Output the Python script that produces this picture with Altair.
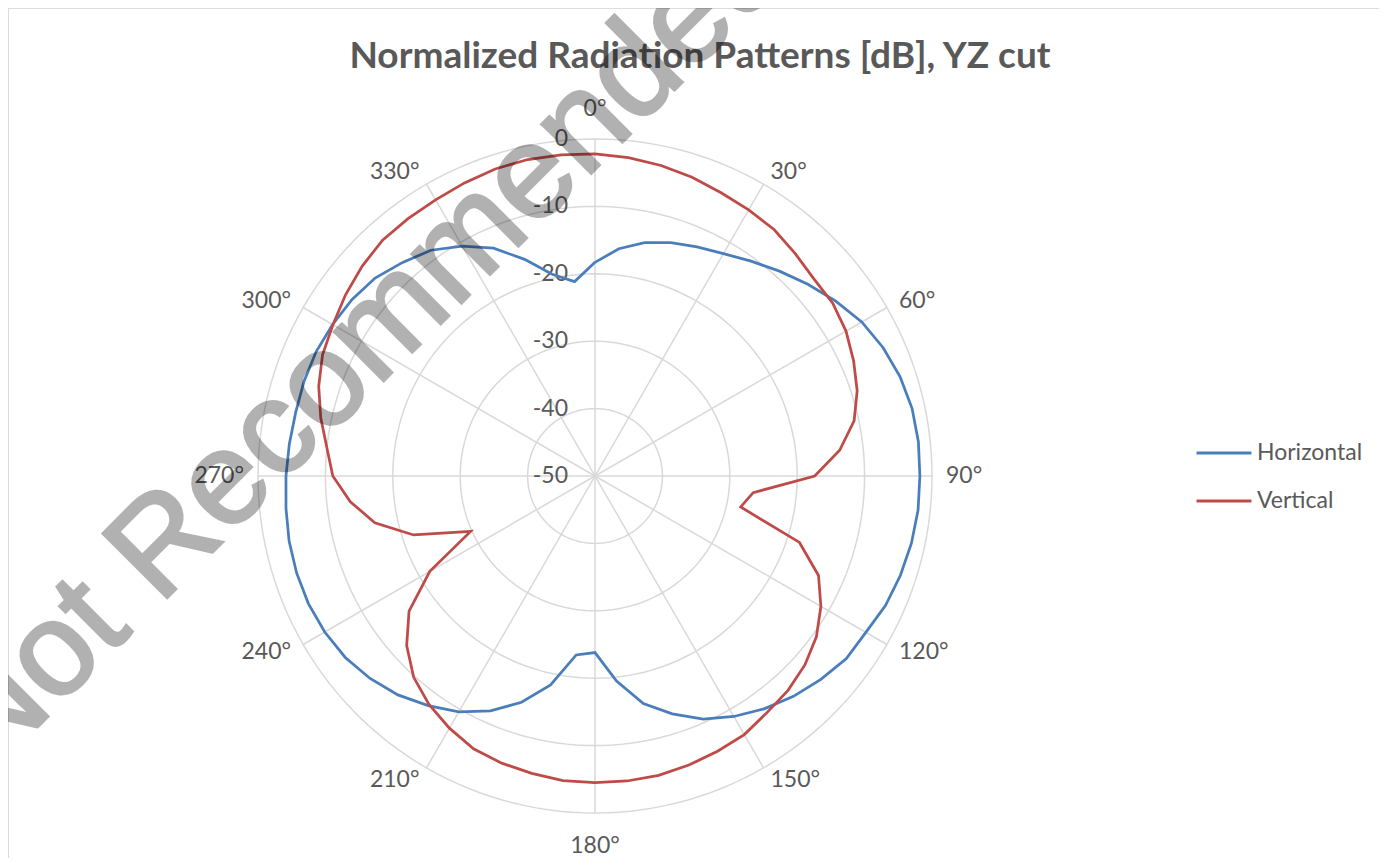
import altair as alt
import pandas as pd

# ---------------- data ----------------
angles = list(range(0, 360, 6))
horizontal = [-18.3, -16.1, -14.6, -13.6, -12.8, -11.9, -10.6, -9.1, -7.5, -5.85,
              -4.3, -3.2, -2.4, -1.9, -1.75, -1.8, -1.8, -2.0, -2.35, -2.8,
              -3.6, -3.9, -4.9, -6.0, -7.3, -8.8, -10.5, -12.9, -15.5, -19.4,
              -23.8, -23.3, -18.3, -14.7, -11.85, -9.6, -7.9, -6.3, -5.1, -4.2,
              -3.7, -3.45, -3.45, -3.6, -3.9, -4.15, -4.4, -4.6, -4.6, -4.7,
              -5.05, -5.45, -6.1, -7.35, -8.6, -10.6, -13.0, -16.2, -19.4, -21.0]
vertical = [-2.2, -2.5, -2.9, -3.4, -4.0, -4.4, -4.8, -5.6, -6.3, -6.4,
            -7.0, -8.0, -9.1, -10.7, -13.5, -17.4, -26.4, -27.9, -18.1, -13.7,
            -11.3, -9.4, -8.1, -7.2, -6.6, -5.7, -5.3, -4.9, -4.6, -4.5,
            -4.5, -4.55, -4.9, -5.2, -5.7, -6.8, -8.1, -9.8, -12.4, -15.9,
            -21.7, -29.8, -21.7, -16.6, -13.5, -11.1, -10.0, -8.4, -6.9, -5.75,
            -5.1, -4.25, -3.5, -2.9, -2.8, -2.7, -2.4, -2.1, -2.0, -2.1]
series_names = ["Horizontal", "Vertical"]
series_colors = ["#4A7EBB", "#BE4B48"]
ring_levels = [-40, -30, -20, -10, 0]
radial_ticks = [-50, -40, -30, -20, -10, 0]
spoke_angles = list(range(0, 360, 30))
title_text = "Normalized Radiation Patterns [dB], YZ cut"
watermark_text = "Not Recommended"

# ---------------- geometry / style ----------------
DB_MIN = -50
PX = 6.74            # pixels per dB on the radial axis
W, H = 1371, 850     # plot area
CX, CY = 587, 468    # pole position inside the plot area
GRID = "#d9d9d9"
TXT = "#595959"
FONT = "Lato"

xs = alt.Scale(domain=[-CX / PX, (W - CX) / PX], nice=False, zero=False)
ys = alt.Scale(domain=[-(H - CY) / PX, CY / PX], nice=False, zero=False)

rad = "datum.deg * PI / 180"

# series table (closed polygon: repeat first point at 360)
rows = []
for name, vals in zip(series_names, [horizontal, vertical]):
    for a, v in zip(angles, vals):
        rows.append({"series": name, "deg": a, "db": v})
    rows.append({"series": name, "deg": 360, "db": vals[0]})
series_df = pd.DataFrame(rows)

ring_df = pd.DataFrame([{"level": lv, "deg": d} for lv in ring_levels for d in range(0, 361, 2)])
spoke_df = pd.DataFrame({"deg": spoke_angles})
label_df = pd.DataFrame({"deg": spoke_angles, "label": [f"{a}°" for a in spoke_angles]})
tick_df = pd.DataFrame({"level": radial_ticks, "label": [str(v) for v in radial_ticks]})

X = lambda f: alt.X(f, scale=xs, axis=None)
Y = lambda f: alt.Y(f, scale=ys, axis=None)

rings = alt.Chart(ring_df).transform_calculate(
    r=f"datum.level - ({DB_MIN})"
).transform_calculate(
    x=f"datum.r * sin({rad})", y=f"datum.r * cos({rad})"
).mark_line(color=GRID, strokeWidth=1.5).encode(
    x=X("x:Q"), y=Y("y:Q"), detail="level:N", order="deg:Q"
)

spokes = alt.Chart(spoke_df).transform_calculate(
    x0="0", y0="0",
    x1=f"{-DB_MIN} * sin({rad})", y1=f"{-DB_MIN} * cos({rad})"
).mark_rule(color=GRID, strokeWidth=1.5).encode(
    x=X("x0:Q"), y=Y("y0:Q"), x2="x1:Q", y2="y1:Q"
)

ticks = alt.Chart(tick_df).transform_calculate(
    x="0", y=f"datum.level - ({DB_MIN})"
).mark_text(align="right", baseline="middle", dx=-27, fontSize=23, font=FONT, color=TXT).encode(
    x=X("x:Q"), y=Y("y:Q"), text="label:N"
)


def angle_layer(filt, gap, align, baseline):
    rr = -DB_MIN + gap / PX
    return alt.Chart(label_df).transform_filter(filt).transform_calculate(
        x=f"{rr} * sin({rad})", y=f"{rr} * cos({rad})"
    ).mark_text(align=align, baseline=baseline, fontSize=23, font=FONT, color=TXT).encode(
        x=X("x:Q"), y=Y("y:Q"), text="label:N"
    )


lab_right = angle_layer("datum.deg > 0 && datum.deg < 180", 14, "left", "middle")
lab_left = angle_layer("datum.deg > 180", 14, "right", "middle")
lab_top = angle_layer("datum.deg == 0", 18, "center", "bottom")
lab_bot = angle_layer("datum.deg == 180", 22, "center", "top")

lines = alt.Chart(series_df).transform_calculate(
    r=f"datum.db - ({DB_MIN})"
).transform_calculate(
    x=f"datum.r * sin({rad})", y=f"datum.r * cos({rad})"
).mark_line(strokeWidth=2.75).encode(
    x=X("x:Q"), y=Y("y:Q"), order="deg:Q",
    color=alt.Color("series:N", scale=alt.Scale(domain=series_names, range=series_colors),
                    legend=alt.Legend(title=None, orient="none", legendX=1187, legendY=416,
                                      symbolType="stroke", symbolSize=3025, symbolStrokeWidth=3,
                                      labelFontSize=23, labelFont=FONT, labelColor=TXT,
                                      labelOffset=4, rowPadding=7, padding=0))
)

title = alt.Chart(pd.DataFrame({"t": [title_text]})).mark_text(
    align="center", baseline="alphabetic", fontSize=37, font=FONT, fontWeight="bold", color=TXT
).encode(x=alt.value(692), y=alt.value(60), text="t:N")

frame_left = alt.Chart(pd.DataFrame({"a": [0]})).mark_rule(color=GRID, strokeWidth=1.5).encode(
    x=alt.value(0), y=alt.value(-1), y2=alt.value(H + 20))
frame_top = alt.Chart(pd.DataFrame({"a": [0]})).mark_rule(color=GRID, strokeWidth=1.5).encode(
    x=alt.value(0), x2=alt.value(W + 2), y=alt.value(-1))

watermark = alt.Chart(pd.DataFrame({"t": [watermark_text]})).mark_text(
    align="center", baseline="middle", fontSize=132, font="Liberation Sans",
    angle=315, color="#000000", stroke="#000000", strokeWidth=3, opacity=0.3
).encode(x=alt.value(354), y=alt.value(338), text="t:N")

chart = alt.layer(
    rings, spokes, ticks, lab_right, lab_left, lab_top, lab_bot, lines, title,
    frame_left, frame_top, watermark
).properties(
    width=W, height=H, padding=0, autosize=alt.AutoSizeParams(type="none")
).configure_view(stroke=None).configure(background="white")

chart.save("out.html", embed_options={"renderer": "svg", "actions": False})
